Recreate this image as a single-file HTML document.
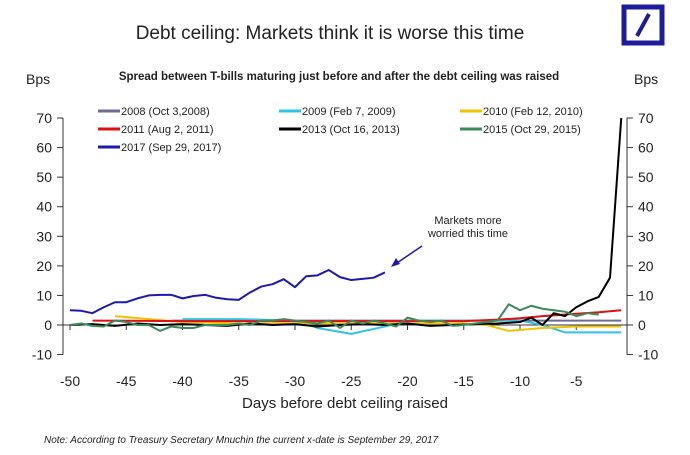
<!DOCTYPE html>
<html><head><meta charset="utf-8"><style>
body{margin:0;background:#fff;width:690px;height:450px;overflow:hidden;font-family:"Liberation Sans",sans-serif}
</style></head><body>
<svg id="c" width="690" height="450" xmlns="http://www.w3.org/2000/svg" font-family="Liberation Sans, sans-serif">
<text x="330" y="39" text-anchor="middle" font-size="19" fill="#222">Debt ceiling: Markets think it is worse this time</text>
<g><rect x="624" y="7" width="38" height="36" fill="none" stroke="#1c1c9c" stroke-width="5"/><line x1="637" y1="36" x2="649" y2="14" stroke="#1c1c9c" stroke-width="4"/></g>
<text x="339" y="80" text-anchor="middle" font-size="11.5" font-weight="bold" fill="#222">Spread between T-bills maturing just before and after the debt ceiling was raised</text>
<text x="26" y="84" font-size="14" fill="#222">Bps</text>
<text x="634" y="84" font-size="14" fill="#222">Bps</text>
<text x="345" y="408" text-anchor="middle" font-size="15" fill="#222">Days before debt ceiling raised</text>
<text x="44" y="443" font-size="10" font-style="italic" fill="#222">Note: According to Treasury Secretary Mnuchin the current x-date is September 29, 2017</text>
<text x="468" y="224" text-anchor="middle" font-size="11" fill="#222"><tspan x="468">Markets more</tspan><tspan x="468" dy="13">worried this time</tspan></text>
<g><line x1="422" y1="246" x2="394" y2="265" stroke="#1a1ab0" stroke-width="1.5"/><polygon points="391,267 396,258 400,264" fill="#1a1ab0"/></g>
<g id="axes"></g><g id="series"></g><g id="legend"></g>
</svg>
<script>
const xTicks=[-50,-45,-40,-35,-30,-25,-20,-15,-10,-5];
const yTicks=[70,60,50,40,30,20,10,0,-10];
const names=["2008 (Oct 3,2008)","2009 (Feb 7, 2009)","2010 (Feb 12, 2010)","2011 (Aug 2, 2011)","2013 (Oct 16, 2013)","2015 (Oct 29, 2015)","2017 (Sep 29, 2017)"];
const colors=["#6f6a8f","#2ec4e8","#f2c200","#e01010","#000000","#3a8a5a","#1a1ab0"];
const d2008Days=[-41,-1];
const d2008=[1.5,1.5];
const d2009Days=[-40,-35,-30,-28,-25,-22,-20,-15,-10,-8,-6,-3,-1];
const d2009=[2,2,1.5,-1,-3,-0.5,1.5,1.5,1.5,0,-2.5,-2.5,-2.5];
const d2010Days=[-46,-43,-40,-35,-30,-25,-20,-15,-13,-11,-8,-5,-1];
const d2010=[3,2,1,0.5,0.5,0.5,0.5,0.5,0,-2,-1,-0.5,-0.5];
const d2011Days=[-48,-40,-30,-20,-15,-12,-10,-8,-5,-3,-1];
const d2011=[1.5,1.3,1.3,1.3,1.3,1.8,2.3,3,3.8,4.3,5];
const d2013Days=[-50,-48,-46,-44,-42,-40,-38,-36,-34,-32,-30,-28,-26,-24,-22,-20,-18,-16,-14,-12,-10,-9,-8,-7,-6,-5,-4,-3,-2,-1];
const d2013=[0,0.3,-0.3,0.5,0,0.3,0,-0.3,0.5,0,0.3,-0.5,0,0.3,0,0.5,-0.3,0,0.3,0.5,1,2.5,0,4,3,6,8,9.5,16,70];
const d2015Days=[-50,-49,-48,-47,-46,-45,-44,-43,-42,-41,-40,-39,-38,-37,-36,-35,-34,-33,-32,-31,-30,-29,-28,-27,-26,-25,-24,-23,-22,-21,-20,-19,-18,-17,-16,-15,-14,-13,-12,-11,-10,-9,-8,-7,-6,-5,-4,-3,-2,-1];
const d2015=[0,0.5,-0.3,-0.5,1.5,1,0,0,-2,-0.5,-1,-1,0,0,0,0.5,0,1.5,1.5,2,1.5,1,0.5,1.5,-1,1.5,0.5,1.5,0.5,-0.5,2.5,1.5,1,1.5,-0.3,0,0.5,1,1.5,7,5,6.5,5.5,5,4.5,3,4,3.5];
const d2017Days=[-50,-49,-48,-47,-46,-45,-44,-43,-42,-41,-40,-39,-38,-37,-36,-35,-34,-33,-32,-31,-30,-29,-28,-27,-26,-25,-24,-23,-22];
const d2017=[5,4.8,4,6,7.7,7.7,9,10,10.2,10.2,9,9.8,10.2,9.2,8.7,8.5,11,13,13.8,15.5,12.8,16.5,16.8,18.6,16.2,15.2,15.6,16,17.8];
const allDays=[d2008Days,d2009Days,d2010Days,d2011Days,d2013Days,d2015Days,d2017Days];
const allVals=[d2008,d2009,d2010,d2011,d2013,d2015,d2017];
const NS="http://www.w3.org/2000/svg";
const X=v=>70+(v+50)*11.25;
const Y=v=>325-v*2.957;
function mk(t,a,p){const e=document.createElementNS(NS,t);for(const k in a)e.setAttribute(k,a[k]);p.appendChild(e);return e;}
const ax=document.getElementById('axes');
const la=mk('line',{x1:63,y1:Y(70),x2:63,y2:Y(-10),stroke:'#333'},ax);


const ra=mk('line',{x1:627,y1:Y(70),x2:627,y2:Y(-10),stroke:'#333'},ax);


const xa=mk('line',{x1:63,y1:Y(0),x2:627,y2:Y(0),stroke:'#333'},ax);


yTicks.forEach(v=>{
 mk('line',{x1:57,y1:Y(v),x2:63,y2:Y(v),stroke:'#333'},ax);
 mk('line',{x1:627,y1:Y(v),x2:633,y2:Y(v),stroke:'#333'},ax);
 const t=mk('text',{x:52,y:Y(v)+5,'text-anchor':'end','font-size':14,fill:'#222'},ax);t.textContent=v;
 
 
 const t2=mk('text',{x:638,y:Y(v)+5,'font-size':14,fill:'#222'},ax);t2.textContent=v;
 
 
});
xTicks.forEach(v=>{
 mk('line',{x1:X(v),y1:Y(0),x2:X(v),y2:Y(0)+5,stroke:'#333'},ax);
 const t=mk('text',{x:X(v),y:386,'text-anchor':'middle','font-size':14,fill:'#222'},ax);t.textContent=v;
 
 
});
const sg=document.getElementById('series');
allVals.forEach((vals,i)=>{
 const pts=vals.map((v,j)=>X(allDays[i][j])+','+Y(v)).join(' ');
 const p=mk('polyline',{points:pts,fill:'none',stroke:colors[i],'stroke-width':2,'stroke-linejoin':'round'},sg);
 
 
});
const lg=document.getElementById('legend');
names.forEach((n,i)=>{
 const x=98+(i%3)*181, y=111+Math.floor(i/3)*18;
 const g=mk('g',{},lg);
 
 
 mk('line',{x1:x,y1:y,x2:x+22,y2:y,stroke:colors[i],'stroke-width':3},g);
 const t=mk('text',{x:x+23,y:y+4,'font-size':11,fill:'#222'},g);t.textContent=n;
});
</script>
</body></html>
